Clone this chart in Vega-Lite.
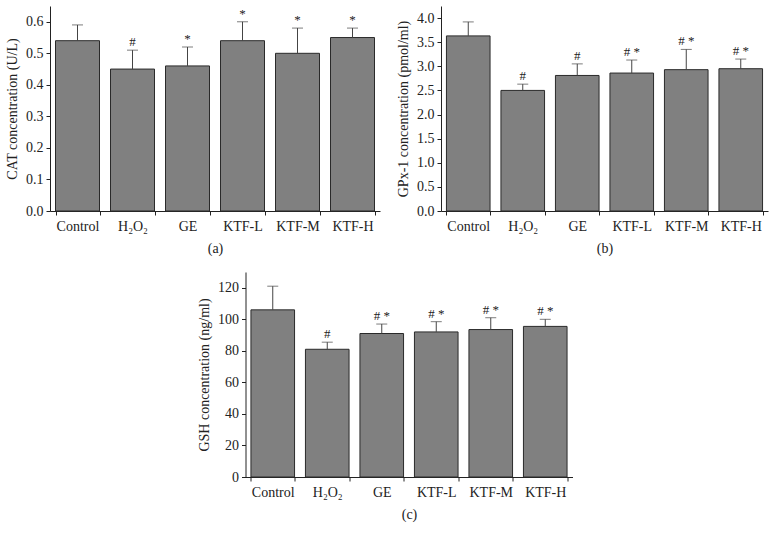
{
  "$schema": "https://vega.github.io/schema/vega-lite/v6.json",
  "background": "white",
  "padding": {"left": 5, "top": 6, "right": 5, "bottom": 5},
  "config": {
    "font": "Liberation Serif",
    "view": {"stroke": null},
    "axis": {
      "grid": false,
      "domainColor": "#222",
      "tickColor": "#222",
      "labelColor": "#222",
      "titleColor": "#222",
      "labelFont": "Liberation Serif",
      "titleFont": "Liberation Serif",
      "labelFontSize": 14,
      "titleFontSize": 14,
      "titleFontWeight": "normal",
      "tickSize": 4,
      "labelOverlap": false
    },
    "axisX": {"labelAngle": 0, "tickBand": "extent", "labelPadding": 4, "titlePadding": 8},
    "axisY": {"titlePadding": 6, "labelPadding": 3}
  },
  "datasets": {
    "cat": [
      {"group": "Control", "value": 0.54, "top": 0.59, "sig": ""},
      {"group": "H₂O₂", "value": 0.45, "top": 0.51, "sig": "#"},
      {"group": "GE", "value": 0.46, "top": 0.52, "sig": "*"},
      {"group": "KTF-L", "value": 0.54, "top": 0.60, "sig": "*"},
      {"group": "KTF-M", "value": 0.50, "top": 0.58, "sig": "*"},
      {"group": "KTF-H", "value": 0.55, "top": 0.58, "sig": "*"}
    ],
    "gpx": [
      {"group": "Control", "value": 3.63, "top": 3.92, "sig": ""},
      {"group": "H₂O₂", "value": 2.50, "top": 2.63, "sig": "#"},
      {"group": "GE", "value": 2.81, "top": 3.05, "sig": "#"},
      {"group": "KTF-L", "value": 2.86, "top": 3.13, "sig": "# *"},
      {"group": "KTF-M", "value": 2.93, "top": 3.35, "sig": "# *"},
      {"group": "KTF-H", "value": 2.95, "top": 3.15, "sig": "# *"}
    ],
    "gsh": [
      {"group": "Control", "value": 106, "top": 121, "sig": ""},
      {"group": "H₂O₂", "value": 81, "top": 85.5, "sig": "#"},
      {"group": "GE", "value": 91, "top": 97, "sig": "# *"},
      {"group": "KTF-L", "value": 92, "top": 98.5, "sig": "# *"},
      {"group": "KTF-M", "value": 93.5, "top": 101, "sig": "# *"},
      {"group": "KTF-H", "value": 95.5, "top": 100, "sig": "# *"}
    ]
  },
  "center": true,
  "spacing": 17,
  "vconcat": [
    {
      "spacing": 16,
      "hconcat": [
        {
          "width": 330,
          "height": 205,
          "data": {"name": "cat"},
          "encoding": {
            "x": {"field": "group", "type": "nominal", "sort": null,
                  "scale": {"paddingInner": 0.2, "paddingOuter": 0.1},
                  "axis": {"title": "(a)"}}
          },
          "layer": [
            {"mark": {"type": "bar", "fill": "#808080", "stroke": "#2a2a2a", "strokeWidth": 1},
             "encoding": {"y": {"field": "value", "type": "quantitative",
                                "scale": {"domain": [0, 0.65], "nice": false},
                                "axis": {"values": [0, 0.1, 0.2, 0.3, 0.4, 0.5, 0.6], "format": ".1f"},
                                "title": "CAT concentration (U/L)"}}},
            {"mark": {"type": "rule", "color": "#444", "strokeWidth": 1},
             "encoding": {"y": {"field": "value", "type": "quantitative",
                                "scale": {"domain": [0, 0.65], "nice": false},
                                "axis": {"values": [0, 0.1, 0.2, 0.3, 0.4, 0.5, 0.6], "format": ".1f"},
                                "title": "CAT concentration (U/L)"}, "y2": {"field": "top"}}},
            {"mark": {"type": "tick", "color": "#444", "size": 11, "thickness": 1},
             "encoding": {"y": {"field": "top", "type": "quantitative",
                                "scale": {"domain": [0, 0.65], "nice": false},
                                "axis": {"values": [0, 0.1, 0.2, 0.3, 0.4, 0.5, 0.6], "format": ".1f"},
                                "title": "CAT concentration (U/L)"}}},
            {"mark": {"type": "text", "baseline": "bottom", "dy": -1, "fontSize": 13, "color": "#222"},
             "encoding": {"y": {"field": "top", "type": "quantitative",
                                "scale": {"domain": [0, 0.65], "nice": false},
                                "axis": {"values": [0, 0.1, 0.2, 0.3, 0.4, 0.5, 0.6], "format": ".1f"},
                                "title": "CAT concentration (U/L)"}, "text": {"field": "sig"}}}
          ]
        },
        {
          "width": 327,
          "height": 205,
          "data": {"name": "gpx"},
          "encoding": {
            "x": {"field": "group", "type": "nominal", "sort": null,
                  "scale": {"paddingInner": 0.2, "paddingOuter": 0.1},
                  "axis": {"title": "(b)"}}
          },
          "layer": [
            {"mark": {"type": "bar", "fill": "#808080", "stroke": "#2a2a2a", "strokeWidth": 1},
             "encoding": {"y": {"field": "value", "type": "quantitative",
                                "scale": {"domain": [0, 4.25], "nice": false},
                                "axis": {"values": [0, 0.5, 1, 1.5, 2, 2.5, 3, 3.5, 4], "format": ".1f"},
                                "title": "GPx-1 concentration (pmol/ml)"}}},
            {"mark": {"type": "rule", "color": "#444", "strokeWidth": 1},
             "encoding": {"y": {"field": "value", "type": "quantitative",
                                "scale": {"domain": [0, 4.25], "nice": false},
                                "axis": {"values": [0, 0.5, 1, 1.5, 2, 2.5, 3, 3.5, 4], "format": ".1f"},
                                "title": "GPx-1 concentration (pmol/ml)"}, "y2": {"field": "top"}}},
            {"mark": {"type": "tick", "color": "#444", "size": 11, "thickness": 1},
             "encoding": {"y": {"field": "top", "type": "quantitative",
                                "scale": {"domain": [0, 4.25], "nice": false},
                                "axis": {"values": [0, 0.5, 1, 1.5, 2, 2.5, 3, 3.5, 4], "format": ".1f"},
                                "title": "GPx-1 concentration (pmol/ml)"}}},
            {"mark": {"type": "text", "baseline": "bottom", "dy": -1, "fontSize": 13, "color": "#222"},
             "encoding": {"y": {"field": "top", "type": "quantitative",
                                "scale": {"domain": [0, 4.25], "nice": false},
                                "axis": {"values": [0, 0.5, 1, 1.5, 2, 2.5, 3, 3.5, 4], "format": ".1f"},
                                "title": "GPx-1 concentration (pmol/ml)"}, "text": {"field": "sig"}}}
          ]
        }
      ]
    },
    {
      "width": 327,
      "height": 205,
      "data": {"name": "gsh"},
      "encoding": {
        "x": {"field": "group", "type": "nominal", "sort": null,
              "scale": {"paddingInner": 0.2, "paddingOuter": 0.1},
              "axis": {"title": "(c)"}}
      },
      "layer": [
        {"mark": {"type": "bar", "fill": "#808080", "stroke": "#2a2a2a", "strokeWidth": 1},
         "encoding": {"y": {"field": "value", "type": "quantitative",
                            "scale": {"domain": [0, 130], "nice": false},
                            "axis": {"values": [0, 20, 40, 60, 80, 100, 120]},
                            "title": "GSH concentration (ng/ml)"}}},
        {"mark": {"type": "rule", "color": "#444", "strokeWidth": 1},
         "encoding": {"y": {"field": "value", "type": "quantitative",
                            "scale": {"domain": [0, 130], "nice": false},
                            "axis": {"values": [0, 20, 40, 60, 80, 100, 120]},
                            "title": "GSH concentration (ng/ml)"}, "y2": {"field": "top"}}},
        {"mark": {"type": "tick", "color": "#444", "size": 11, "thickness": 1},
         "encoding": {"y": {"field": "top", "type": "quantitative",
                            "scale": {"domain": [0, 130], "nice": false},
                            "axis": {"values": [0, 20, 40, 60, 80, 100, 120]},
                            "title": "GSH concentration (ng/ml)"}}},
        {"mark": {"type": "text", "baseline": "bottom", "dy": -1, "fontSize": 13, "color": "#222"},
         "encoding": {"y": {"field": "top", "type": "quantitative",
                            "scale": {"domain": [0, 130], "nice": false},
                            "axis": {"values": [0, 20, 40, 60, 80, 100, 120]},
                            "title": "GSH concentration (ng/ml)"}, "text": {"field": "sig"}}}
      ]
    }
  ]
}
